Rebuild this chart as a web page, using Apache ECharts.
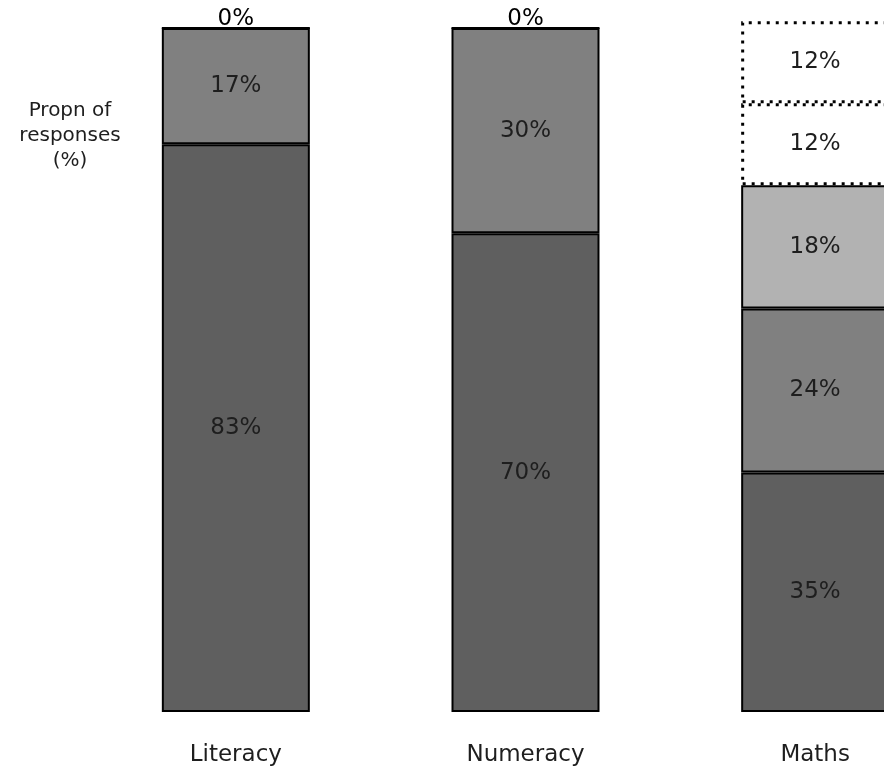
<!DOCTYPE html>
<html>
<head>
<meta charset="utf-8">
<script src="https://cdn.jsdelivr.net/npm/echarts@6/dist/echarts.min.js"></script>
<style>html,body{margin:0;padding:0;background:#fff;}#c{width:884px;height:768px;}</style>
</head>
<body>
<div id="c"></div>
<script>
const categories = ['Literacy', 'Numeracy', 'Maths'];
const seg1 = [83, 70, 35];
const seg2 = [17, 30, 24];
const seg3 = [0, 0, 18];
const seg4 = [null, null, 12];
const seg5 = [null, null, 12];
const yTitle = 'Propn of\nresponses\n(%)';

const FONT = 'DejaVu Sans';
const chart = echarts.init(document.getElementById('c'), null, {renderer: 'canvas'});
function solid(name, data, color) {
  return {
    name, type: 'bar', stack: 'all', data, barWidth: 148, clip: false,
    itemStyle: {color, borderColor: '#000', borderWidth: 2},
    label: {show: true, position: 'inside', formatter: p => p.value + '%',
      fontFamily: FONT, fontSize: 23, color: '#1e1e1e'}
  };
}
function dotted(name, data) {
  return {
    name, type: 'bar', stack: 'all', data, barWidth: 148, clip: false,
    itemStyle: {color: '#fff', borderColor: '#000', borderWidth: 3, borderType: [3, 6]},
    label: {show: true, position: 'inside', formatter: p => p.value + '%',
      fontFamily: FONT, fontSize: 23, color: '#1e1e1e'}
  };
}
const s3 = solid('s3', seg3.map(v => ({
  value: v,
  label: v === 0 ? {offset: [0, -9], color: '#000'} : {}
})), '#b2b2b2');
chart.setOption({
  animation: false,
  backgroundColor: '#fff',
  title: {
    text: yTitle, left: 65, top: 93, textAlign: 'center',
    textStyle: {fontFamily: FONT, fontSize: 20, fontWeight: 'normal', color: '#1e1e1e', lineHeight: 25, align: 'center'}
  },
  grid: {left: 91, width: 869, top: 28, bottom: 56, containLabel: false, outerBoundsMode: 'none'},
  xAxis: {
    type: 'category', data: categories,
    axisLine: {show: false}, axisTick: {show: false},
    axisLabel: {fontFamily: FONT, fontSize: 23, color: '#1e1e1e', margin: 32}
  },
  yAxis: {type: 'value', min: 0, max: 100, show: false},
  series: [
    solid('s1', seg1, '#5f5f5f'),
    solid('s2', seg2, '#808080'),
    s3,
    dotted('s4', seg4),
    dotted('s5', seg5)
  ]
});
</script>
</body>
</html>
